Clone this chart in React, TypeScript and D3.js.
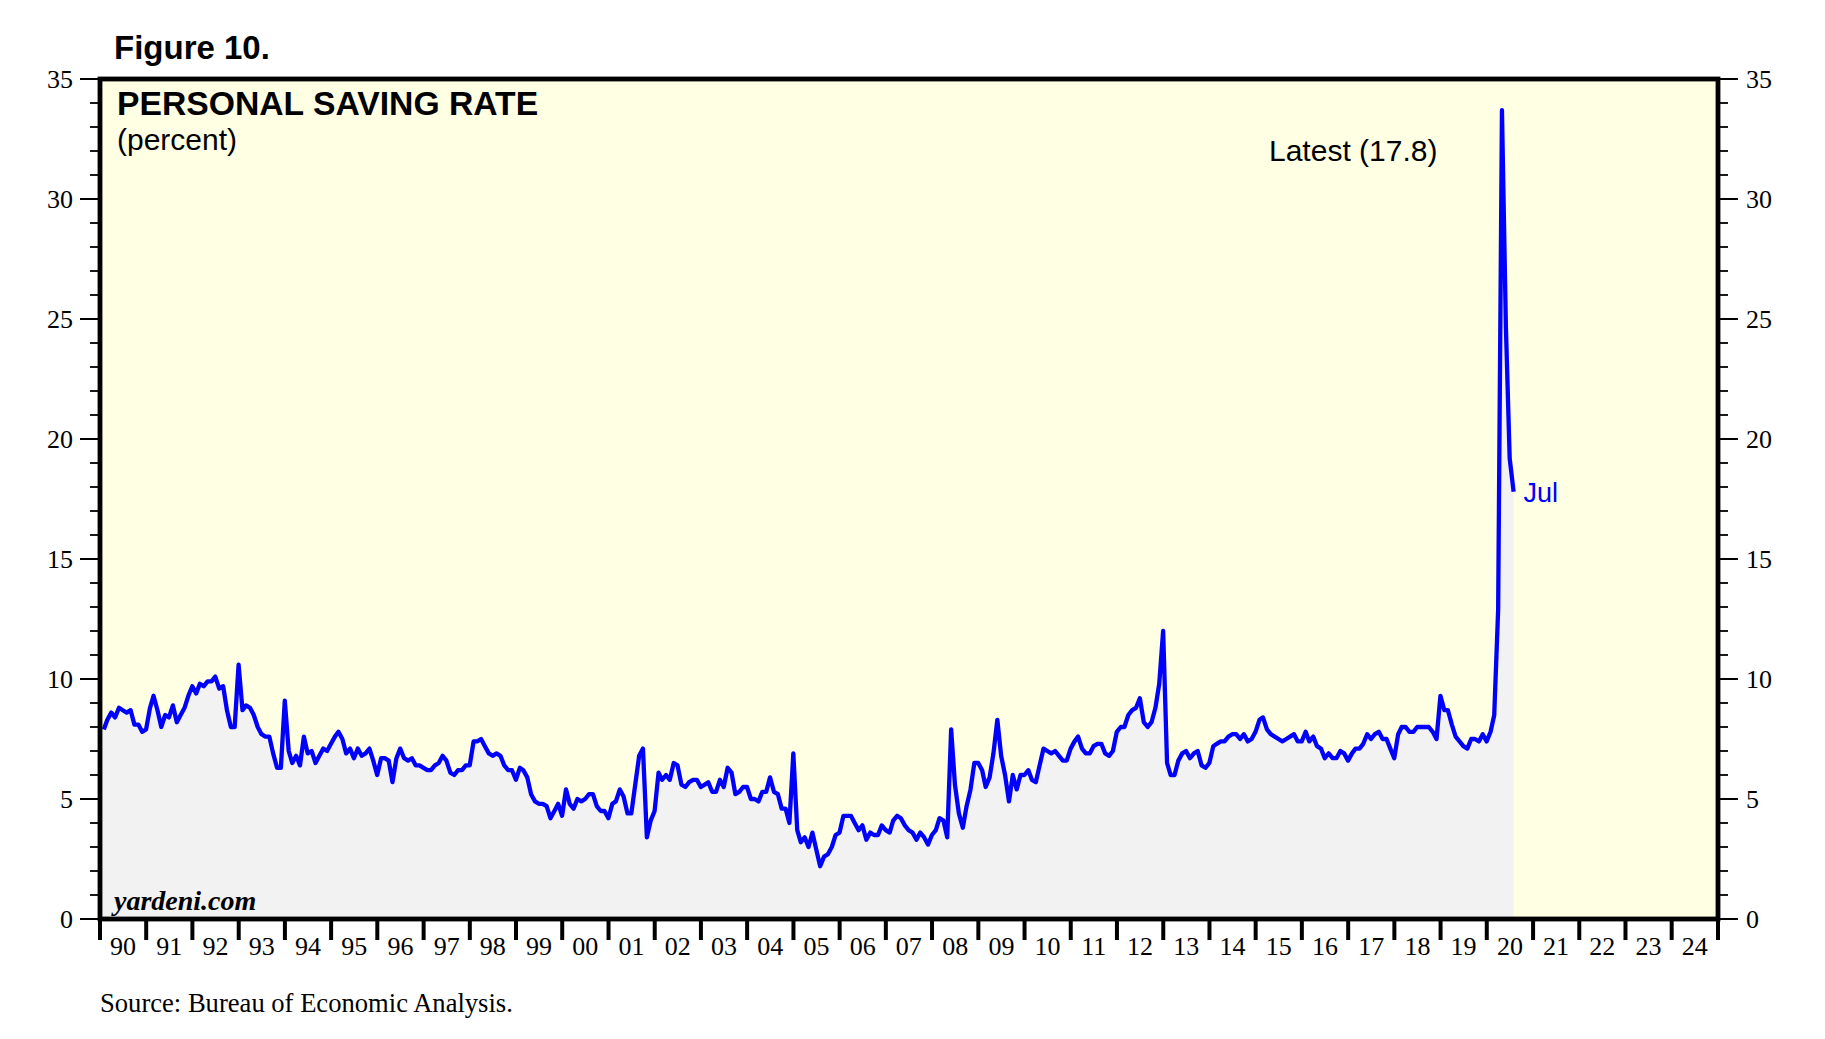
import * as d3 from 'd3'

// personal saving rate, monthly, percent
const sr1990 = [7.9, 8.3, 8.6, 8.4, 8.8, 8.7, 8.6, 8.7, 8.1, 8.1, 7.8, 7.9]
const sr1991 = [8.8, 9.3, 8.7, 8.0, 8.5, 8.4, 8.9, 8.2, 8.5, 8.8, 9.3, 9.7]
const sr1992 = [9.4, 9.8, 9.7, 9.9, 9.9, 10.1, 9.6, 9.7, 8.7, 8.0, 8.0, 10.6]
const sr1993 = [8.7, 8.9, 8.8, 8.5, 8.0, 7.7, 7.6, 7.6, 6.9, 6.3, 6.3, 9.1]
const sr1994 = [7.0, 6.5, 6.8, 6.4, 7.6, 6.9, 7.0, 6.5, 6.8, 7.1, 7.0, 7.3]
const sr1995 = [7.6, 7.8, 7.5, 6.9, 7.1, 6.7, 7.1, 6.8, 6.9, 7.1, 6.6, 6.0]
const sr1996 = [6.7, 6.7, 6.6, 5.7, 6.7, 7.1, 6.7, 6.6, 6.7, 6.4, 6.4, 6.3]
const sr1997 = [6.2, 6.2, 6.4, 6.5, 6.8, 6.6, 6.1, 6.0, 6.2, 6.2, 6.4, 6.4]
const sr1998 = [7.4, 7.4, 7.5, 7.2, 6.9, 6.8, 6.9, 6.8, 6.4, 6.2, 6.2, 5.8]
const sr1999 = [6.3, 6.2, 5.9, 5.2, 4.9, 4.8, 4.8, 4.7, 4.2, 4.5, 4.8, 4.3]
const sr2000 = [5.4, 4.8, 4.6, 5.0, 4.9, 5.0, 5.2, 5.2, 4.7, 4.5, 4.5, 4.2]
const sr2001 = [4.8, 4.9, 5.4, 5.1, 4.4, 4.4, 5.6, 6.8, 7.1, 3.4, 4.1, 4.5]
const sr2002 = [6.1, 5.8, 6.0, 5.8, 6.5, 6.4, 5.6, 5.5, 5.7, 5.8, 5.8, 5.5]
const sr2003 = [5.6, 5.7, 5.3, 5.3, 5.8, 5.5, 6.3, 6.1, 5.2, 5.3, 5.5, 5.5]
const sr2004 = [5.0, 5.0, 4.9, 5.3, 5.3, 5.9, 5.3, 5.2, 4.6, 4.6, 4.0, 6.9]
const sr2005 = [3.7, 3.2, 3.4, 3.0, 3.6, 2.9, 2.2, 2.6, 2.7, 3.0, 3.5, 3.6]
const sr2006 = [4.3, 4.3, 4.3, 4.0, 3.7, 3.9, 3.3, 3.6, 3.5, 3.5, 3.9, 3.7]
const sr2007 = [3.6, 4.1, 4.3, 4.2, 3.9, 3.7, 3.6, 3.3, 3.6, 3.4, 3.1, 3.5]
const sr2008 = [3.7, 4.2, 4.1, 3.4, 7.9, 5.6, 4.4, 3.8, 4.7, 5.4, 6.5, 6.5]
const sr2009 = [6.2, 5.5, 5.9, 6.9, 8.3, 6.8, 6.0, 4.9, 6.0, 5.4, 6.0, 6.0]
const sr2010 = [6.2, 5.8, 5.7, 6.4, 7.1, 7.0, 6.9, 7.0, 6.8, 6.6, 6.6, 7.1]
const sr2011 = [7.4, 7.6, 7.1, 6.9, 6.9, 7.2, 7.3, 7.3, 6.9, 6.8, 7.0, 7.8]
const sr2012 = [8.0, 8.0, 8.5, 8.7, 8.8, 9.2, 8.2, 8.0, 8.2, 8.8, 9.8, 12.0]
const sr2013 = [6.5, 6.0, 6.0, 6.6, 6.9, 7.0, 6.7, 6.9, 7.0, 6.4, 6.3, 6.5]
const sr2014 = [7.2, 7.3, 7.4, 7.4, 7.6, 7.7, 7.7, 7.5, 7.7, 7.4, 7.5, 7.8]
const sr2015 = [8.3, 8.4, 7.9, 7.7, 7.6, 7.5, 7.4, 7.5, 7.6, 7.7, 7.4, 7.4]
const sr2016 = [7.8, 7.4, 7.6, 7.2, 7.1, 6.7, 6.9, 6.7, 6.7, 7.0, 6.9, 6.6]
const sr2017 = [6.9, 7.1, 7.1, 7.3, 7.7, 7.5, 7.7, 7.8, 7.5, 7.5, 7.1, 6.7]
const sr2018 = [7.7, 8.0, 8.0, 7.8, 7.8, 8.0, 8.0, 8.0, 8.0, 7.8, 7.5, 9.3]
const sr2019 = [8.7, 8.7, 8.1, 7.6, 7.4, 7.2, 7.1, 7.5, 7.5, 7.4, 7.7, 7.4]
const sr2020 = [7.8, 8.5, 12.9, 33.7, 24.7, 19.2, 17.8]

const byYear = [
  sr1990, sr1991, sr1992, sr1993, sr1994, sr1995, sr1996, sr1997, sr1998, sr1999,
  sr2000, sr2001, sr2002, sr2003, sr2004, sr2005, sr2006, sr2007, sr2008, sr2009,
  sr2010, sr2011, sr2012, sr2013, sr2014, sr2015, sr2016, sr2017, sr2018, sr2019, sr2020,
]
const firstYear = 1990
const axisYears = d3.range(1990, 2026) // tick at start of each year
const yTicksMajor = [0, 5, 10, 15, 20, 25, 30, 35]
const yTicksMinor = d3.range(0, 36)

type Pt = { date: Date; value: number }
// each month plotted at its end
const data: Pt[] = byYear.flatMap((vals, i) =>
  vals.map((v, m) => ({ date: new Date(firstYear + i, m + 1, 0), value: v }))
)

const W = 1825
const H = 1039
const plot = { left: 100, right: 1718, top: 79, bottom: 919 }

const serif = "'Liberation Serif', 'Times New Roman', serif"
const sans = "'Liberation Sans', Arial, sans-serif"

export default function App() {
  const x = d3.scaleTime()
    .domain([new Date(1990, 0, 1), new Date(2025, 0, 1)])
    .range([plot.left, plot.right])
  const y = d3.scaleLinear().domain([0, 35]).range([plot.bottom, plot.top])

  const area = d3.area<Pt>()
    .x(d => x(d.date))
    .y0(y(0))
    .y1(d => y(d.value))
  const line = d3.line<Pt>()
    .x(d => x(d.date))
    .y(d => y(d.value))

  const areaData = [{ date: new Date(1990, 0, 1), value: data[0].value }, ...data]
  const last = data[data.length - 1]

  return (
    <svg width={W} height={H} style={{ position: 'absolute', left: 0, top: 0, background: '#fff' }}>
      <rect x={plot.left} y={plot.top} width={plot.right - plot.left} height={plot.bottom - plot.top} fill="#ffffe3" />
      <path d={area(areaData) || ''} fill="#f2f2f2" />
      <path d={line(data) || ''} fill="none" stroke="#0000ff" strokeWidth={4.3} strokeLinejoin="round" />

      {/* left & right y ticks */}
      {yTicksMinor.map(v => (
        <g key={'m' + v}>
          <line x1={plot.left - 10} x2={plot.left} y1={y(v)} y2={y(v)} stroke="#000" strokeWidth={1.8} />
          <line x1={plot.right} x2={plot.right + 10} y1={y(v)} y2={y(v)} stroke="#000" strokeWidth={1.8} />
        </g>
      ))}
      {yTicksMajor.map(v => (
        <g key={'M' + v}>
          <line x1={plot.left - 20} x2={plot.left} y1={y(v)} y2={y(v)} stroke="#000" strokeWidth={2} />
          <line x1={plot.right} x2={plot.right + 20} y1={y(v)} y2={y(v)} stroke="#000" strokeWidth={2} />
          <text x={plot.left - 27} y={y(v)} dy="0.35em" textAnchor="end" fontFamily={serif} fontSize={26}>{v}</text>
          <text x={plot.right + 28} y={y(v)} dy="0.35em" textAnchor="start" fontFamily={serif} fontSize={26}>{v}</text>
        </g>
      ))}

      {/* x ticks and year labels */}
      {axisYears.map(yr => (
        <line key={'t' + yr} x1={x(new Date(yr, 0, 1))} x2={x(new Date(yr, 0, 1))}
          y1={plot.bottom} y2={plot.bottom + 21} stroke="#000" strokeWidth={4} />
      ))}
      {axisYears.slice(0, -1).map(yr => (
        <text key={'l' + yr} x={x(new Date(yr, 6, 2))} y={plot.bottom + 36} textAnchor="middle"
          fontFamily={serif} fontSize={26}>{String(yr % 100).padStart(2, '0')}</text>
      ))}

      <rect x={plot.left} y={plot.top} width={plot.right - plot.left} height={plot.bottom - plot.top}
        fill="none" stroke="#000" strokeWidth={4.8} />

      <text x={114} y={59} fontFamily={sans} fontWeight="bold" fontSize={33}>Figure 10.</text>
      <text x={117} y={115} fontFamily={sans} fontWeight="bold" fontSize={33.7}>PERSONAL SAVING RATE</text>
      <text x={117} y={150} fontFamily={sans} fontSize={30}>(percent)</text>
      <text x={1269} y={161} fontFamily={sans} fontSize={30}>Latest ({last.value})</text>
      <text x={x(last.date) + 10} y={y(last.value) + 10} fontFamily={sans} fontSize={27} fill="#0000ff">Jul</text>
      <text x={114} y={910} fontFamily={serif} fontWeight="bold" fontStyle="italic" fontSize={28}>yardeni.com</text>
      <text x={100} y={1012} fontFamily={serif} fontSize={26.6}>Source: Bureau of Economic Analysis.</text>
    </svg>
  )
}
